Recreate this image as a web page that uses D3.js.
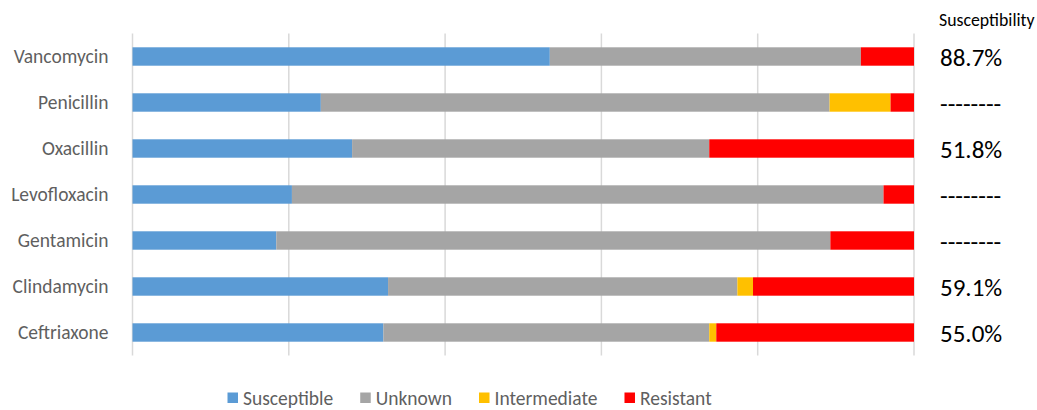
<!DOCTYPE html>
<html>
<head>
<meta charset="utf-8">
<script src="https://cdn.jsdelivr.net/npm/d3@7"></script>
<style>
  html, body { margin: 0; padding: 0; background: #fff; }
  svg { display: block; }
  text { font-family: Carlito, Lato, "Open Sans", sans-serif; }
</style>
</head>
<body>
<svg id="chart" width="1037" height="410"></svg>
<script>
// Antibiotics, top to bottom
const drugs = ["Vancomycin", "Penicillin", "Oxacillin", "Levofloxacin", "Gentamicin", "Clindamycin", "Ceftriaxone"];

// Share of isolates (%) in each result class
const susceptible  = [53.4, 24.1, 28.1, 20.4, 18.4, 32.7, 32.1];
const unknown      = [39.8, 65.1, 45.7, 75.7, 70.9, 44.7, 41.7];
const intermediate = [0.0,  7.8,  0.0,  0.0,  0.0,  2.0,  0.9];
const resistant    = [6.8,  3.0,  26.2, 3.9,  10.7, 20.6, 25.3];

// Susceptibility among isolates with a known result
const susceptibilityLabels = ["88.7%", "--------", "51.8%", "--------", "--------", "59.1%", "55.0%"];

const seriesNames  = ["Susceptible", "Unknown", "Intermediate", "Resistant"];
const seriesColors = ["#5B9BD5", "#A5A5A5", "#FFC000", "#FF0000"];
const xTicks = [0, 20, 40, 60, 80, 100];

const rows = drugs.map((d, i) => ({
  drug: d,
  Susceptible: susceptible[i],
  Unknown: unknown[i],
  Intermediate: intermediate[i],
  Resistant: resistant[i]
}));

const svg = d3.select("#chart");
const margin = { left: 132.5, right: 123, top: 33.5, bottom: 54.5 };
const W = 1037, H = 410;

const x = d3.scaleLinear().domain([0, 100]).range([margin.left, W - margin.right]);
const y = d3.scaleBand().domain(drugs).range([margin.top, H - margin.bottom])
  .paddingInner(0.6).paddingOuter(0.3);
const color = d3.scaleOrdinal().domain(seriesNames).range(seriesColors);

// Vertical gridlines
svg.append("g")
  .selectAll("line")
  .data(xTicks)
  .join("line")
  .attr("x1", d => x(d)).attr("x2", d => x(d))
  .attr("y1", margin.top).attr("y2", H - margin.bottom)
  .attr("stroke", "#D9D9D9")
  .attr("stroke-width", 1.5);

// Stacked bars, normalised to 100%
const stacked = d3.stack().keys(seriesNames)(rows);
svg.append("g")
  .selectAll("g")
  .data(stacked)
  .join("g")
  .attr("fill", s => color(s.key))
  .selectAll("rect")
  .data(s => s)
  .join("rect")
  .attr("x", d => x(d[0]))
  .attr("width", d => Math.max(0, x(d[1]) - x(d[0])))
  .attr("y", d => y(d.data.drug))
  .attr("height", y.bandwidth());

// Category axis (labels only)
const yAxis = svg.append("g")
  .attr("transform", `translate(${margin.left - 24},0)`)
  .call(d3.axisLeft(y).tickSize(0).tickPadding(0));
yAxis.select(".domain").remove();
yAxis.selectAll("text")
  .attr("fill", "#5F5F5F")
  .style("font-size", "19.5px")
  .attr("dy", "0.35em");

// Susceptibility column
svg.append("text")
  .attr("x", 939)
  .attr("y", 26)
  .attr("fill", "#000")
  .style("font-size", "17.8px")
  .text("Susceptibility");

svg.append("g")
  .selectAll("text")
  .data(drugs)
  .join("text")
  .attr("x", 940)
  .attr("y", d => y(d) + y.bandwidth() / 2)
  .attr("dy", "0.36em")
  .attr("fill", "#000")
  .style("font-size", "25px")
  .text((d, i) => susceptibilityLabels[i]);

// Legend
const legend = svg.append("g");
let lx = 227.5;
seriesNames.forEach(name => {
  const item = legend.append("g").attr("transform", `translate(${lx},0)`);
  item.append("rect")
    .attr("x", 0).attr("y", 392.5)
    .attr("width", 10.5).attr("height", 10.5)
    .attr("fill", color(name));
  const t = item.append("text")
    .attr("x", 15.5).attr("y", 405)
    .attr("fill", "#5F5F5F")
    .style("font-size", "19.5px")
    .text(name);
  lx += 15.5 + t.node().getComputedTextLength() + 27;
});
</script>
</body>
</html>
